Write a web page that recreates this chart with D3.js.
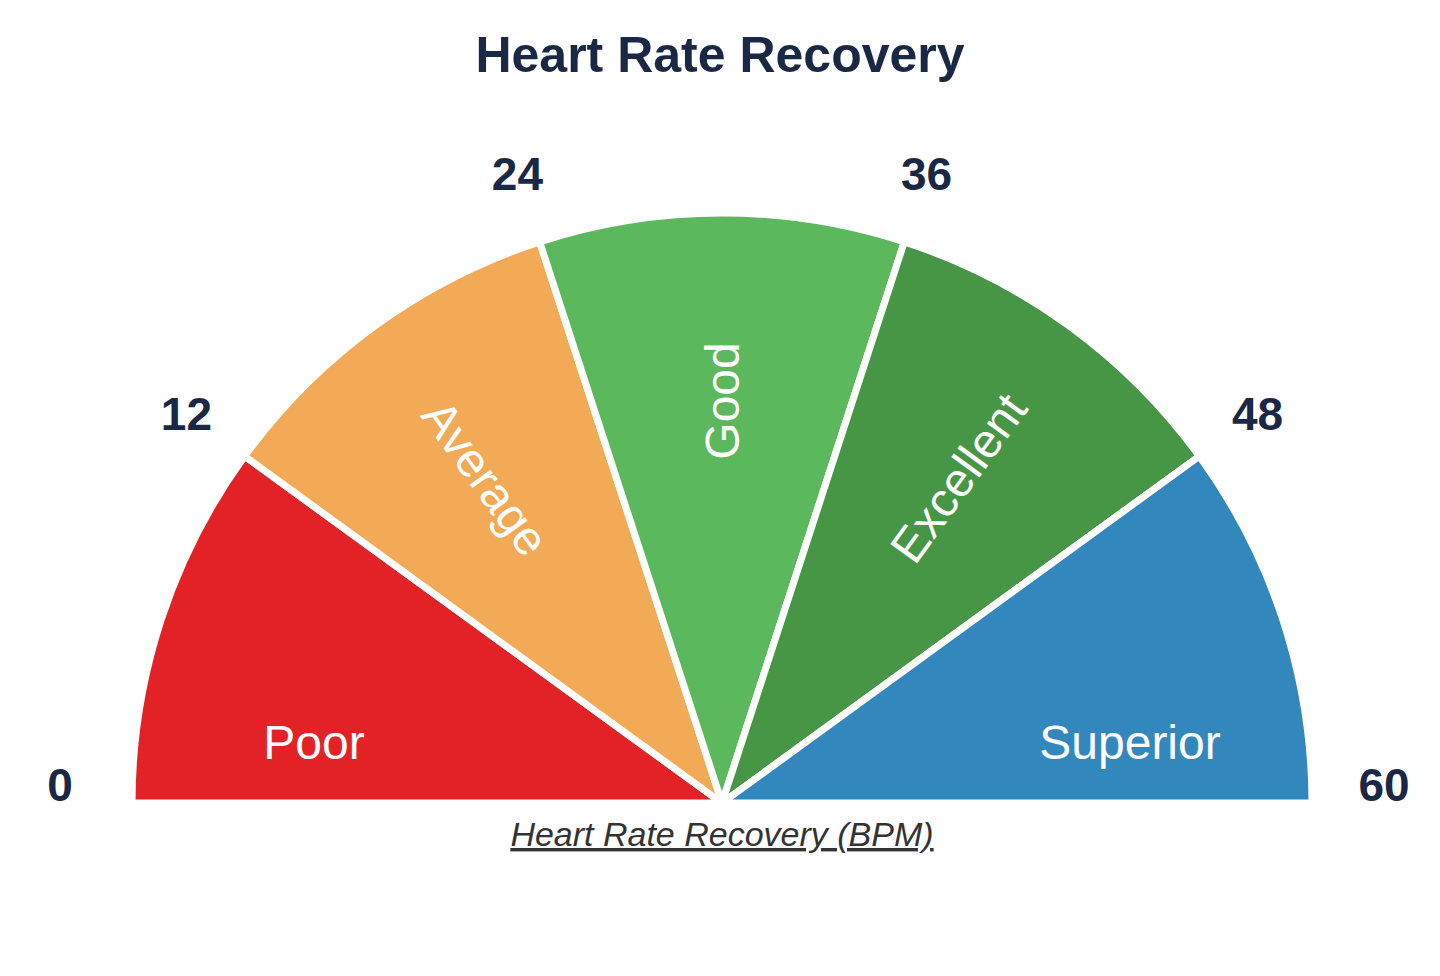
<!DOCTYPE html>
<html><head><meta charset="utf-8">
<script src="https://cdn.jsdelivr.net/npm/d3@7"></script>
<style>body{margin:0;background:#fff}</style>
</head><body>
<svg id="c" width="1440" height="976"></svg>
<script>
const categories = ["Poor","Average","Good","Excellent","Superior"];
const bounds = [0,12,24,36,48,60];
const colors = ["#e32227","#f3aa56","#5cb85c","#469646","#3288bd"];
const tickLabels = ["0","12","24","36","48","60"];
const title = "Heart Rate Recovery";
const axisLabel = "Heart Rate Recovery (BPM)";

const svg = d3.select("#c");
const cx = 722, cy = 803, R = 590;
const ang = d3.scaleLinear().domain([0,60]).range([-Math.PI/2, Math.PI/2]);
const g = svg.append("g").attr("transform",`translate(${cx},${cy})`);
const arc = d3.arc().innerRadius(0).outerRadius(R);
g.selectAll("path").data(categories).join("path")
  .attr("d",(d,i)=>arc({startAngle:ang(bounds[i]),endAngle:ang(bounds[i+1])}))
  .attr("fill",(d,i)=>colors[i]).attr("stroke","#fff").attr("stroke-width",7).attr("stroke-linejoin","round");

const navy = "#1b2845";
svg.append("text").attr("x",720).attr("y",72).attr("text-anchor","middle")
  .attr("font-family","Liberation Sans, Arial").attr("font-weight","bold").attr("font-size",50).attr("fill",navy).text(title);

// tick labels
tickLabels.forEach((t,i)=>{
  const a = ang(bounds[i]);
  let r = 662;
  let x = r*Math.sin(a), y = -r*Math.cos(a);
  if (i===0||i===5) y = -18;
  g.append("text").attr("x",x).attr("y",y).attr("dy","0.35em").attr("text-anchor","middle")
   .attr("font-family","Liberation Sans, Arial").attr("font-weight","bold").attr("font-size",46).attr("fill",navy).text(t);
});

// segment labels
categories.forEach((c,i)=>{
  const mid = (bounds[i]+bounds[i+1])/2;
  const a = ang(mid);
  let tr, x, y;
  if (i===0 || i===4) {
    x = (i===0?-1:1)*408; y = -61;
    tr = `translate(${x},${y})`;
  } else {
    const r = 402;
    x = r*Math.sin(a); y = -r*Math.cos(a);
    const deg = a*180/Math.PI; // -36,0,36
    const rot = i===1 ? 90+deg : deg-90;
    tr = `translate(${x},${y}) rotate(${rot})`;
  }
  g.append("text").attr("transform",tr).attr("dy","0.35em").attr("text-anchor","middle")
   .attr("font-family","Liberation Sans, Arial").attr("font-size",48).attr("fill","#fff").text(c);
});

svg.append("text").attr("x",722).attr("y",846).attr("text-anchor","middle")
  .attr("font-family","Liberation Sans, Arial").attr("font-style","italic").attr("font-size",34)
  .attr("text-decoration","underline").attr("fill","#333").text(axisLabel);
</script>
</body></html>
